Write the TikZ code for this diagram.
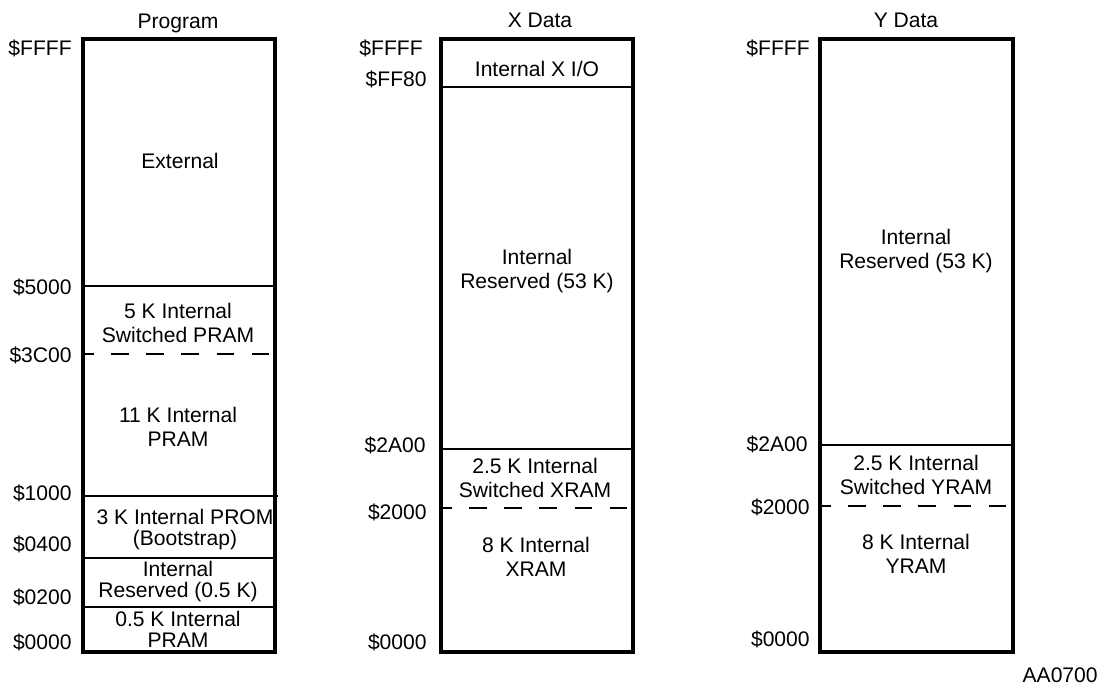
\documentclass[tikz,border=0pt]{standalone}
\usepackage{fontspec}
\setmainfont{Liberation Sans}

\tikzset{
    frame/.style={line width=1.8pt},
    sep/.style={line width=1.2pt},
    cut/.style={line width=1.5pt, dash pattern=on 10pt off 10pt, dash phase=4pt},
    addr/.style={anchor=base east, inner sep=0pt, font=\fontsize{12}{14}\selectfont},
    title/.style={anchor=base, inner sep=0pt, font=\fontsize{12}{14}\selectfont},
    region/.style={align=center, inner sep=0pt, font=\fontsize{12}{14}\selectfont},
    tight/.style={region, font=\fontsize{12}{12}\selectfont}
}

\begin{document}
\begin{tikzpicture}[x=0.02cm, y=-0.02cm]
    \useasboundingbox (0,0) rectangle (1109,688);

    % Program space
    \node[title] (progT) at (178, 29) {Program};
    \draw[frame] (83,39) rectangle (275,652);
    \draw[sep] (83,286) -- (275,286);
    \draw[cut] (83,354) -- (277,354);
    \draw[sep] (83,496) -- (278,496);
    \draw[sep] (83,558) -- (275,558);
    \draw[sep] (83,607) -- (275,607);

    \node[addr] (pFFFF) at (72, 56) {\$FFFF};
    \node[addr] (p5000) at (72, 295) {\$5000};
    \node[addr] (p3C00) at (72, 363) {\$3C00};
    \node[addr] (p1000) at (72, 501) {\$1000};
    \node[addr] (p0400) at (72, 552) {\$0400};
    \node[addr] (p0200) at (72, 605) {\$0200};
    \node[addr] (p0000) at (72, 650) {\$0000};

    \node[region] (pExt) at (180, 161) {External};
    \node[region] (pSw) at (178, 323) {5 K Internal\\Switched PRAM};
    \node[region] (pRam) at (178, 427) {11 K Internal\\PRAM};
    \node[tight] (pRom) at (185, 530) {3 K Internal PROM\\(Bootstrap)};
    \node[tight] (pRes) at (178, 582) {Internal\\Reserved (0.5 K)};
    \node[tight] (pLow) at (178, 629) {0.5 K Internal\\PRAM};

    % X data space
    \node[title] (xT) at (540, 28) {X Data};
    \draw[frame] (441,39) rectangle (633,652);
    \draw[sep] (441,87) -- (633,87);
    \draw[sep] (441,449) -- (633,449);
    \draw[cut] (441,508) -- (636,508);

    \node[addr] (xFFFF) at (423, 56) {\$FFFF};
    \node[addr] (xFF80) at (427, 87) {\$FF80};
    \node[addr] (x2A00) at (426, 453) {\$2A00};
    \node[addr] (x2000) at (427, 520) {\$2000};
    \node[addr] (x0000) at (427, 650) {\$0000};

    \node[region] (xIO) at (537, 69) {Internal X I/O};
    \node[region] (xRes) at (537, 271) {Internal\\Reserved (53 K)};
    \node[region] (xSw) at (535, 478) {2.5 K Internal\\Switched XRAM};
    \node[region] (xRam) at (536, 557) {8 K Internal\\XRAM};

    % Y data space
    \node[title] (yT) at (906, 28) {Y Data};
    \draw[frame] (820,39) rectangle (1013,652);
    \draw[sep] (820,445) -- (1013,445);
    \draw[cut] (820,506) -- (1013,506);

    \node[addr] (yFFFF) at (810, 56) {\$FFFF};
    \node[addr] (y2A00) at (808, 452) {\$2A00};
    \node[addr] (y2000) at (810, 515) {\$2000};
    \node[addr] (y0000) at (810, 647) {\$0000};

    \node[region] (yRes) at (916, 251) {Internal\\Reserved (53 K)};
    \node[region] (ySw) at (916, 475) {2.5 K Internal\\Switched YRAM};
    \node[region] (yRam) at (916, 554) {8 K Internal\\YRAM};

    \node[addr] (fig) at (1098, 683) {AA0700};
\end{tikzpicture}
\end{document}
